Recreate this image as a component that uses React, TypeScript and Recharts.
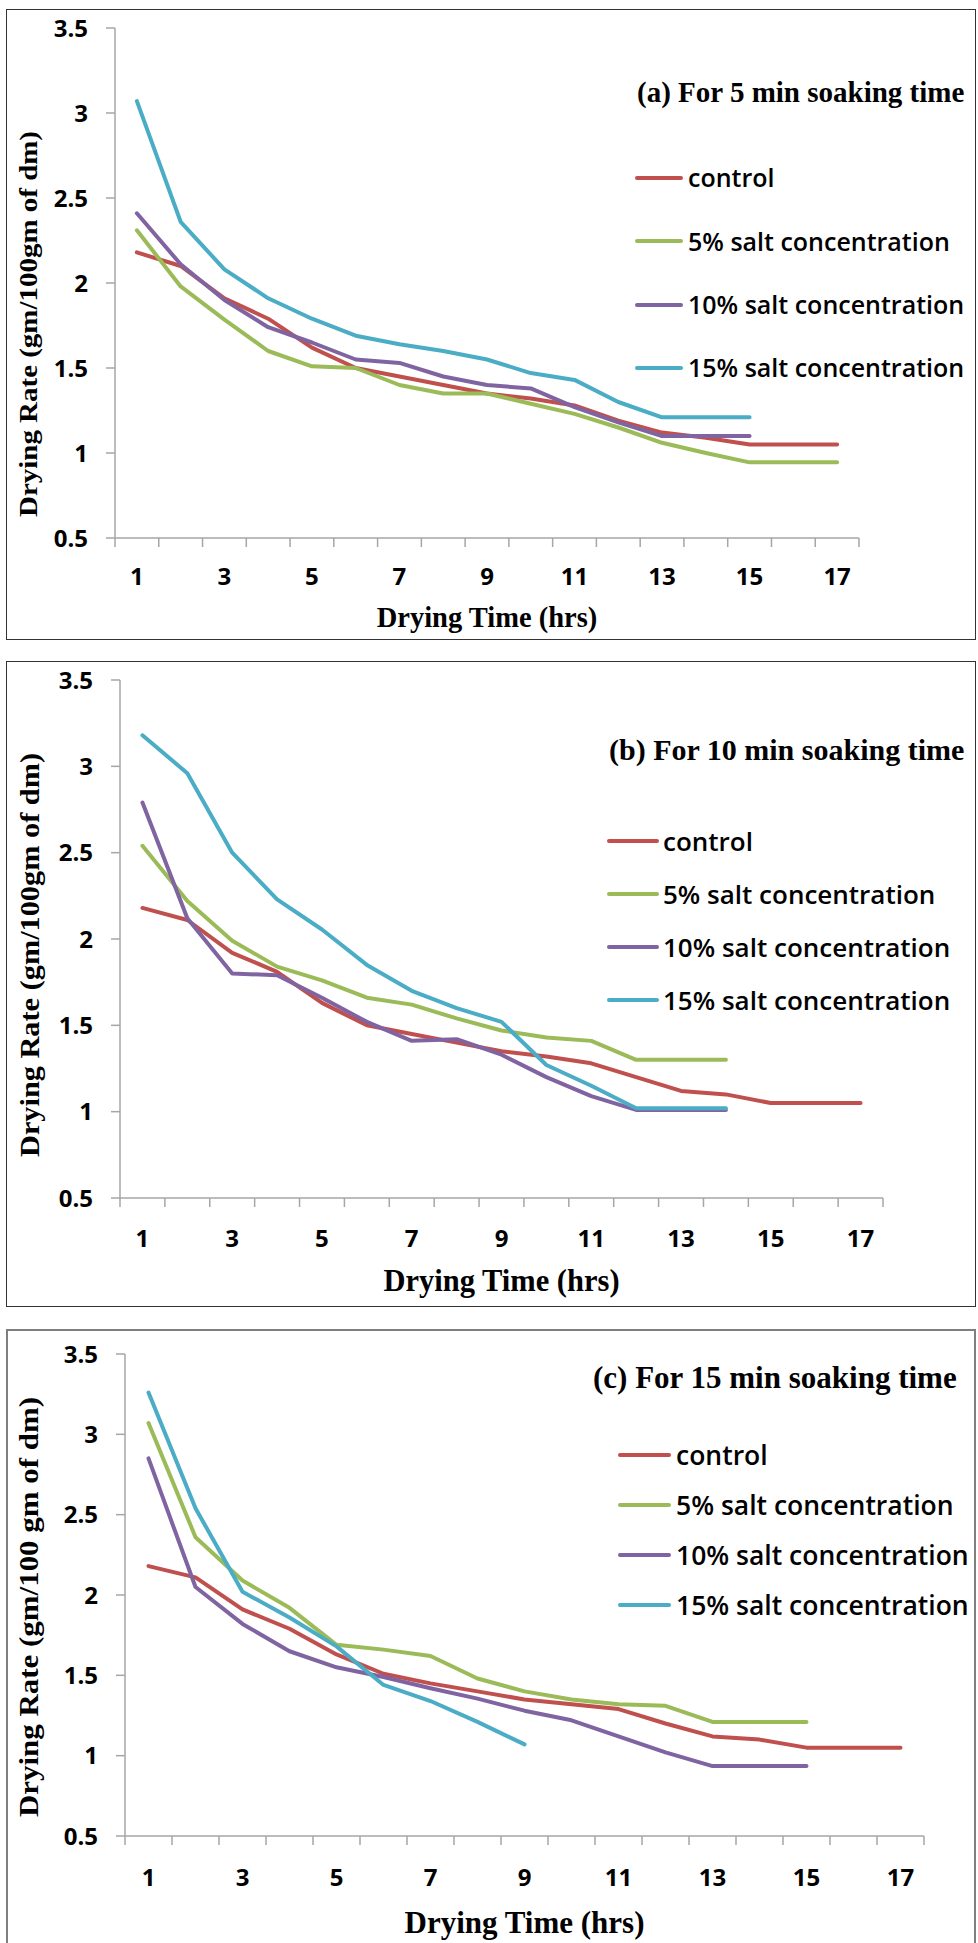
import React from 'react';
import { LineChart, Line, XAxis, YAxis, Legend } from 'recharts';

// drying time categories (hrs) and y ticks
const hours = [1, 2, 3, 4, 5, 6, 7, 8, 9, 10, 11, 12, 13, 14, 15, 16, 17];
const rateTicks = [0.5, 1, 1.5, 2, 2.5, 3, 3.5];

const seriesKeys = ['control', 'salt5', 'salt10', 'salt15'];
const seriesNames = ['control', '5% salt concentration', '10% salt concentration', '15% salt concentration'];
const seriesColors = ['#C0504D', '#9BBB59', '#8064A2', '#4BACC6'];

// (a) 5 min soaking time
const controlA = [2.18, 2.1, 1.91, 1.79, 1.62, 1.5, 1.45, 1.4, 1.35, 1.32, 1.28, 1.19, 1.12, 1.09, 1.05, 1.05, 1.05];
const salt5A = [2.31, 1.98, 1.785, 1.6, 1.51, 1.5, 1.4, 1.35, 1.35, 1.29, 1.23, 1.15, 1.06, 1.0, 0.945, 0.945, 0.945];
const salt10A = [2.41, 2.11, 1.9, 1.74, 1.65, 1.55, 1.53, 1.45, 1.4, 1.38, 1.27, 1.18, 1.1, 1.1, 1.1];
const salt15A = [3.07, 2.36, 2.08, 1.91, 1.79, 1.69, 1.64, 1.6, 1.55, 1.47, 1.43, 1.3, 1.21, 1.21, 1.21];

// (b) 10 min soaking time
const controlB = [2.18, 2.11, 1.92, 1.81, 1.63, 1.5, 1.45, 1.4, 1.35, 1.32, 1.28, 1.2, 1.12, 1.1, 1.05, 1.05, 1.05];
const salt5B = [2.54, 2.22, 1.99, 1.84, 1.76, 1.66, 1.62, 1.54, 1.47, 1.43, 1.41, 1.3, 1.3, 1.3];
const salt10B = [2.79, 2.12, 1.8, 1.79, 1.66, 1.52, 1.41, 1.42, 1.33, 1.2, 1.09, 1.01, 1.01, 1.01];
const salt15B = [3.18, 2.96, 2.5, 2.23, 2.055, 1.85, 1.7, 1.6, 1.52, 1.27, 1.15, 1.02, 1.02, 1.02];

// (c) 15 min soaking time
const controlC = [2.18, 2.11, 1.91, 1.79, 1.63, 1.51, 1.45, 1.4, 1.35, 1.32, 1.29, 1.2, 1.12, 1.1, 1.05, 1.05, 1.05];
const salt5C = [3.07, 2.36, 2.09, 1.92, 1.69, 1.66, 1.62, 1.48, 1.4, 1.35, 1.32, 1.31, 1.21, 1.21, 1.21];
const salt10C = [2.85, 2.05, 1.82, 1.65, 1.55, 1.49, 1.42, 1.355, 1.28, 1.22, 1.12, 1.02, 0.935, 0.935, 0.935];
const salt15C = [3.26, 2.54, 2.02, 1.86, 1.68, 1.44, 1.34, 1.21, 1.07];

const serif = "'Liberation Serif', 'Times New Roman', serif";
const sans = "'Open Sans', sans-serif";
const axisGray = '#a6a6a6';

const buildRows = (cols: number[][]) =>
  hours.map((h, i) => {
    const row: any = { h };
    seriesKeys.forEach((k, j) => {
      row[k] = cols[j][i] ?? null;
    });
    return row;
  });

// layout of each panel, coords relative to the panel top
const panels = [
  {
    title: '(a) For 5 min soaking time',
    yTitle: 'Drying Rate (gm/100gm of dm)',
    rows: buildRows([controlA, salt5A, salt10A, salt15A]),
    top: 0,
    height: 645,
    frame: { top: 9, bottom: 640, color: '#333333', w: 1.5 },
    plot: { left: 115, right: 859, top: 28, bottom: 538 },
    titleBox: { left: 637, cy: 93, size: 29 },
    legend: { x: 635, firstRow: 178, rowH: 63.3, lineLen: 48, gap: 5, size: 25 },
    yTitleBox: { x: 28, cy: 324, len: 386, size: 26 },
    xTitleBox: { cy: 617, size: 28.5 },
    xTickBaseline: 47,
  },
  {
    title: '(b) For 10 min soaking time',
    yTitle: 'Drying Rate (gm/100gm of dm)',
    rows: buildRows([controlB, salt5B, salt10B, salt15B]),
    top: 650,
    height: 660,
    frame: { top: 11, bottom: 657, color: '#333333', w: 1.5 },
    plot: { left: 120, right: 883, top: 30, bottom: 548 },
    titleBox: { left: 609, cy: 100, size: 30 },
    legend: { x: 607, firstRow: 191, rowH: 53, lineLen: 52, gap: 4, size: 26 },
    yTitleBox: { x: 30, cy: 305, len: 404, size: 27 },
    xTitleBox: { cy: 631, size: 30.5 },
    xTickBaseline: 48.6,
  },
  {
    title: '(c) For 15 min soaking time',
    yTitle: 'Drying Rate (gm/100 gm of dm)',
    rows: buildRows([controlC, salt5C, salt10C, salt15C]),
    top: 1310,
    height: 633,
    frame: { top: 19, bottom: 660, color: '#7f7f7f', w: 2 },
    plot: { left: 125, right: 924, top: 44, bottom: 526 },
    titleBox: { left: 593, cy: 68, size: 31 },
    legend: { x: 618, firstRow: 145, rowH: 50, lineLen: 53, gap: 5, size: 26.5 },
    yTitleBox: { x: 28, cy: 297, len: 420, size: 28 },
    xTitleBox: { cy: 612, size: 31 },
    xTickBaseline: 49.6,
  },
];

const XTick = (props: any) => {
  const { x, y, payload, index, band, baseline } = props;
  const edge = x - band / 2;
  return (
    <g>
      <line x1={edge} y1={y} x2={edge} y2={y + 9} stroke={axisGray} strokeWidth={1.5} />
      {index === hours.length - 1 && (
        <line x1={x + band / 2} y1={y} x2={x + band / 2} y2={y + 9} stroke={axisGray} strokeWidth={1.5} />
      )}
      {index % 2 === 0 && (
        <text x={x} y={y + baseline} textAnchor="middle" fontFamily={sans} fontWeight={700} fontSize={24} fill="#000">
          {payload.value}
        </text>
      )}
    </g>
  );
};

// keep the legend in series order (recharts sorts by name otherwise)
const LegendBox = ({ payload, lg }: any) => {
  const items = [...(payload || [])].sort(
    (a: any, b: any) => seriesNames.indexOf(a.value) - seriesNames.indexOf(b.value)
  );
  return (
    <div>
      {items.map((item: any) => (
        <div key={item.value} style={{ display: 'flex', alignItems: 'center', height: lg.rowH }}>
          <div style={{ width: lg.lineLen, height: 4, background: item.color, borderRadius: 2, marginRight: lg.gap }} />
          <span style={{ fontFamily: sans, fontSize: lg.size, fontWeight: 600, color: '#000', lineHeight: 1, whiteSpace: 'nowrap' }}>
            {item.value}
          </span>
        </div>
      ))}
    </div>
  );
};

const Panel = ({ p }: any) => {
  const band = (p.plot.right - p.plot.left) / hours.length;
  const plotMid = (p.plot.left + p.plot.right) / 2;
  return (
    <div style={{ position: 'absolute', left: 0, top: p.top, width: 978, height: p.height }}>
      <div
        style={{
          position: 'absolute',
          left: 6,
          top: p.frame.top,
          width: 970,
          height: p.frame.bottom - p.frame.top,
          border: `${p.frame.w}px solid ${p.frame.color}`,
          boxSizing: 'border-box',
        }}
      />
      <div
        style={{
          position: 'absolute',
          left: p.titleBox.left,
          top: p.titleBox.cy - 0.51 * p.titleBox.size,
          fontFamily: serif,
          fontWeight: 700,
          fontSize: p.titleBox.size,
          lineHeight: 1,
          whiteSpace: 'nowrap',
          color: '#000',
        }}
      >
        {p.title}
      </div>
      <div style={{ position: 'absolute', left: 0, top: 0 }}>
        <LineChart
          width={978}
          height={p.height}
          data={p.rows}
          margin={{ top: p.plot.top, right: 978 - p.plot.right, left: 0, bottom: 0 }}
        >
          <XAxis
            dataKey="h"
            scale="band"
            interval={0}
            height={p.height - p.plot.bottom}
            tickLine={false}
            tickSize={0}
            tickMargin={0}
            axisLine={{ stroke: axisGray, strokeWidth: 1.5 }}
            tick={(tp: any) => <XTick {...tp} band={band} baseline={p.xTickBaseline} />}
            label={() => (
              <text
                x={plotMid}
                y={p.xTitleBox.cy}
                textAnchor="middle"
                dominantBaseline="central"
                fontFamily={serif}
                fontWeight={700}
                fontSize={p.xTitleBox.size}
                fill="#000"
              >
                Drying Time (hrs)
              </text>
            )}
          />
          <YAxis
            type="number"
            domain={[0.5, 3.5]}
            ticks={rateTicks}
            width={p.plot.left}
            tickSize={9}
            tickMargin={18}
            tickLine={{ stroke: axisGray, strokeWidth: 1.5 }}
            axisLine={{ stroke: axisGray, strokeWidth: 1.5 }}
            tick={{ fontFamily: sans, fontWeight: 700, fontSize: 24, fill: '#000' }}
            label={() => (
              <text
                x={p.yTitleBox.x}
                y={p.yTitleBox.cy}
                transform={`rotate(-90 ${p.yTitleBox.x} ${p.yTitleBox.cy})`}
                textAnchor="middle"
                dominantBaseline="central"
                fontFamily={serif}
                fontWeight={700}
                fontSize={p.yTitleBox.size}
                textLength={p.yTitleBox.len}
                lengthAdjust="spacingAndGlyphs"
                fill="#000"
              >
                {p.yTitle}
              </text>
            )}
          />
          <Legend
            layout="vertical"
            align="center"
            verticalAlign="middle"
            wrapperStyle={{ left: p.legend.x, top: p.legend.firstRow - p.legend.rowH / 2, width: 380 }}
            content={(lp: any) => <LegendBox payload={lp.payload} lg={p.legend} />}
          />
          {seriesKeys.map((k, j) => (
            <Line
              key={k}
              type="linear"
              dataKey={k}
              name={seriesNames[j]}
              stroke={seriesColors[j]}
              strokeWidth={4}
              strokeLinejoin="round"
              strokeLinecap="round"
              dot={false}
              activeDot={false}
              isAnimationActive={false}
            />
          ))}
        </LineChart>
      </div>
    </div>
  );
};

export default function App() {
  return (
    <div
      style={{
        position: 'absolute',
        left: 0,
        top: 0,
        width: 978,
        height: 1943,
        background: '#fff',
        overflow: 'hidden',
      }}
    >
      {panels.map((p) => (
        <Panel key={p.title} p={p} />
      ))}
    </div>
  );
}
